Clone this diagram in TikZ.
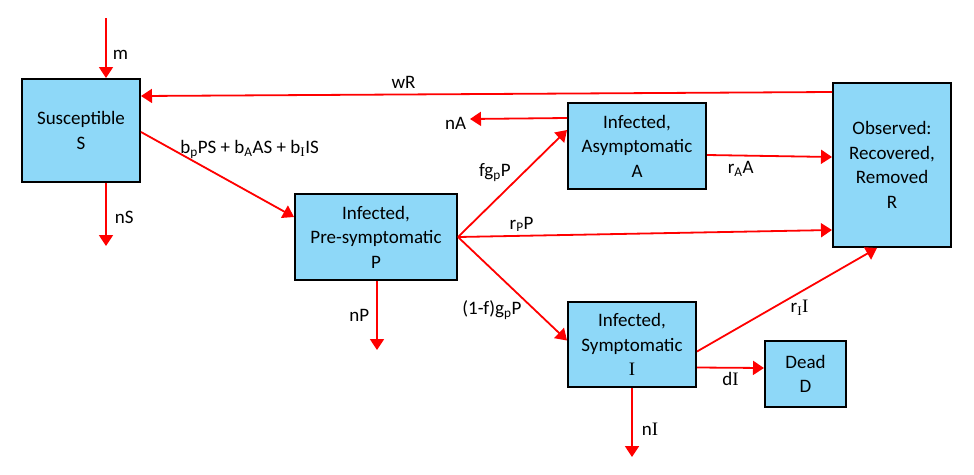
\documentclass[tikz,border=0pt]{standalone}
\usepackage{fontspec}
\setmainfont{Carlito}
\newfontfamily\serifI{Liberation Serif}
\usetikzlibrary{arrows.meta, positioning, calc}
\definecolor{BoxBlue}{HTML}{8ED8F8}
\definecolor{FlowRed}{HTML}{FF0000}
\newcommand{\Iv}{{\serifI I}}

\begin{document}
\begin{tikzpicture}[x=1pt, y=-1pt,
    comp/.style={draw=black, fill=BoxBlue, line width=2pt, align=center,
      inner sep=2pt, font=\fontsize{19}{24.5}\selectfont},
    flow/.style={draw=FlowRed, line width=1.8pt,
      -{Triangle[length=11pt,width=14pt]}},
    rate/.style={font=\fontsize{19}{22}\selectfont, inner sep=1pt}]
  \useasboundingbox (0,0) rectangle (974,474);

  % compartments
  \node[comp, minimum width=118pt, minimum height=103pt] (S) at (81,130.5) {Susceptible\\S};
  \node[comp, minimum width=162pt, minimum height=86pt] (P) at (376,237) {Infected,\\Pre-symptomatic\\P};
  \node[comp, minimum width=138pt, minimum height=86pt] (A) at (637,146) {Infected,\\Asymptomatic\\A};
  \node[comp, minimum width=118pt, minimum height=164pt] (R) at (892,165) {Observed:\\Recovered,\\Removed\\R};
  \node[comp, minimum width=128pt, minimum height=85pt] (I) at (632,344.5) {Infected,\\Symptomatic\\\Iv};
  \node[comp, minimum width=81pt, minimum height=66pt] (D) at (805.5,374) {Dead\\D};

  % free ends
  \coordinate (mIn) at (106,18);
  \coordinate (nSout) at (106,246);
  \coordinate (nAout) at (470,119);
  \coordinate (nPout) at (377,350);
  \coordinate (nIout) at (632,457);

  % flows
  \draw[flow] (mIn) -- (mIn |- S.north) node[rate, right=5pt, pos=0.62] (lm) {m};
  \draw[flow] (nSout |- S.south) -- (nSout) node[rate, right=7pt, pos=0.55] (lnS) {nS};
  \draw[flow] ($(R.north west)+(0,10)$) -- ($(S.north east)+(0,18)$)
    node[rate, above=4pt, pos=0.62] (lwR) {wR};
  \draw[flow] ($(S.east)+(0,1.5)$) -- ($(P.west)+(0,-20)$)
    node[rate, above=32pt, pos=0.71] (linf) {b\textsubscript{p}PS + b\textsubscript{A}AS + b\textsubscript{\Iv}IS};
  \draw[flow] ($(A.west)+(0,-28)$) -- (nAout) node[rate, left=2pt, yshift=-4pt] (lnA) {nA};
  \draw[flow] (P.east) -- ($(A.west)+(0,-16)$) node[rate, above left, midway] (lfg) {fg\textsubscript{p}P};
  \draw[flow] (P.east) -- ($(R.west)+(0,65)$) node[rate, above=2pt, pos=0.17] (lrP) {r\textsubscript{P}P};
  \draw[flow] (P.east) -- ($(I.west)+(0,-4)$) node[rate, below left, pos=0.6] (l1f) {(1-f)g\textsubscript{p}P};
  \draw[flow] (nPout |- P.south) -- (nPout) node[rate, left=6pt, midway] (lnP) {nP};
  \draw[flow] ($(A.east)+(0,9)$) -- ($(R.west)+(0,-8)$) node[rate, below=4pt, pos=0.27] (lrA) {r\textsubscript{A}A};
  \draw[flow] ($(I.east)+(0,7)$) -- ($(R.south west)+(45,0)$) node[rate, below=6pt, pos=0.57] (lrI) {r\textsubscript{\Iv}\Iv};
  \draw[flow] ($(I.east)+(0,23)$) -- ($(D.west)+(0,-6)$) node[rate, below=3pt, midway] (ldI) {d\Iv};
  \draw[flow] (I.south) -- (nIout) node[rate, right=8pt, pos=0.6] (lnI) {n\Iv};
\end{tikzpicture}
\end{document}
